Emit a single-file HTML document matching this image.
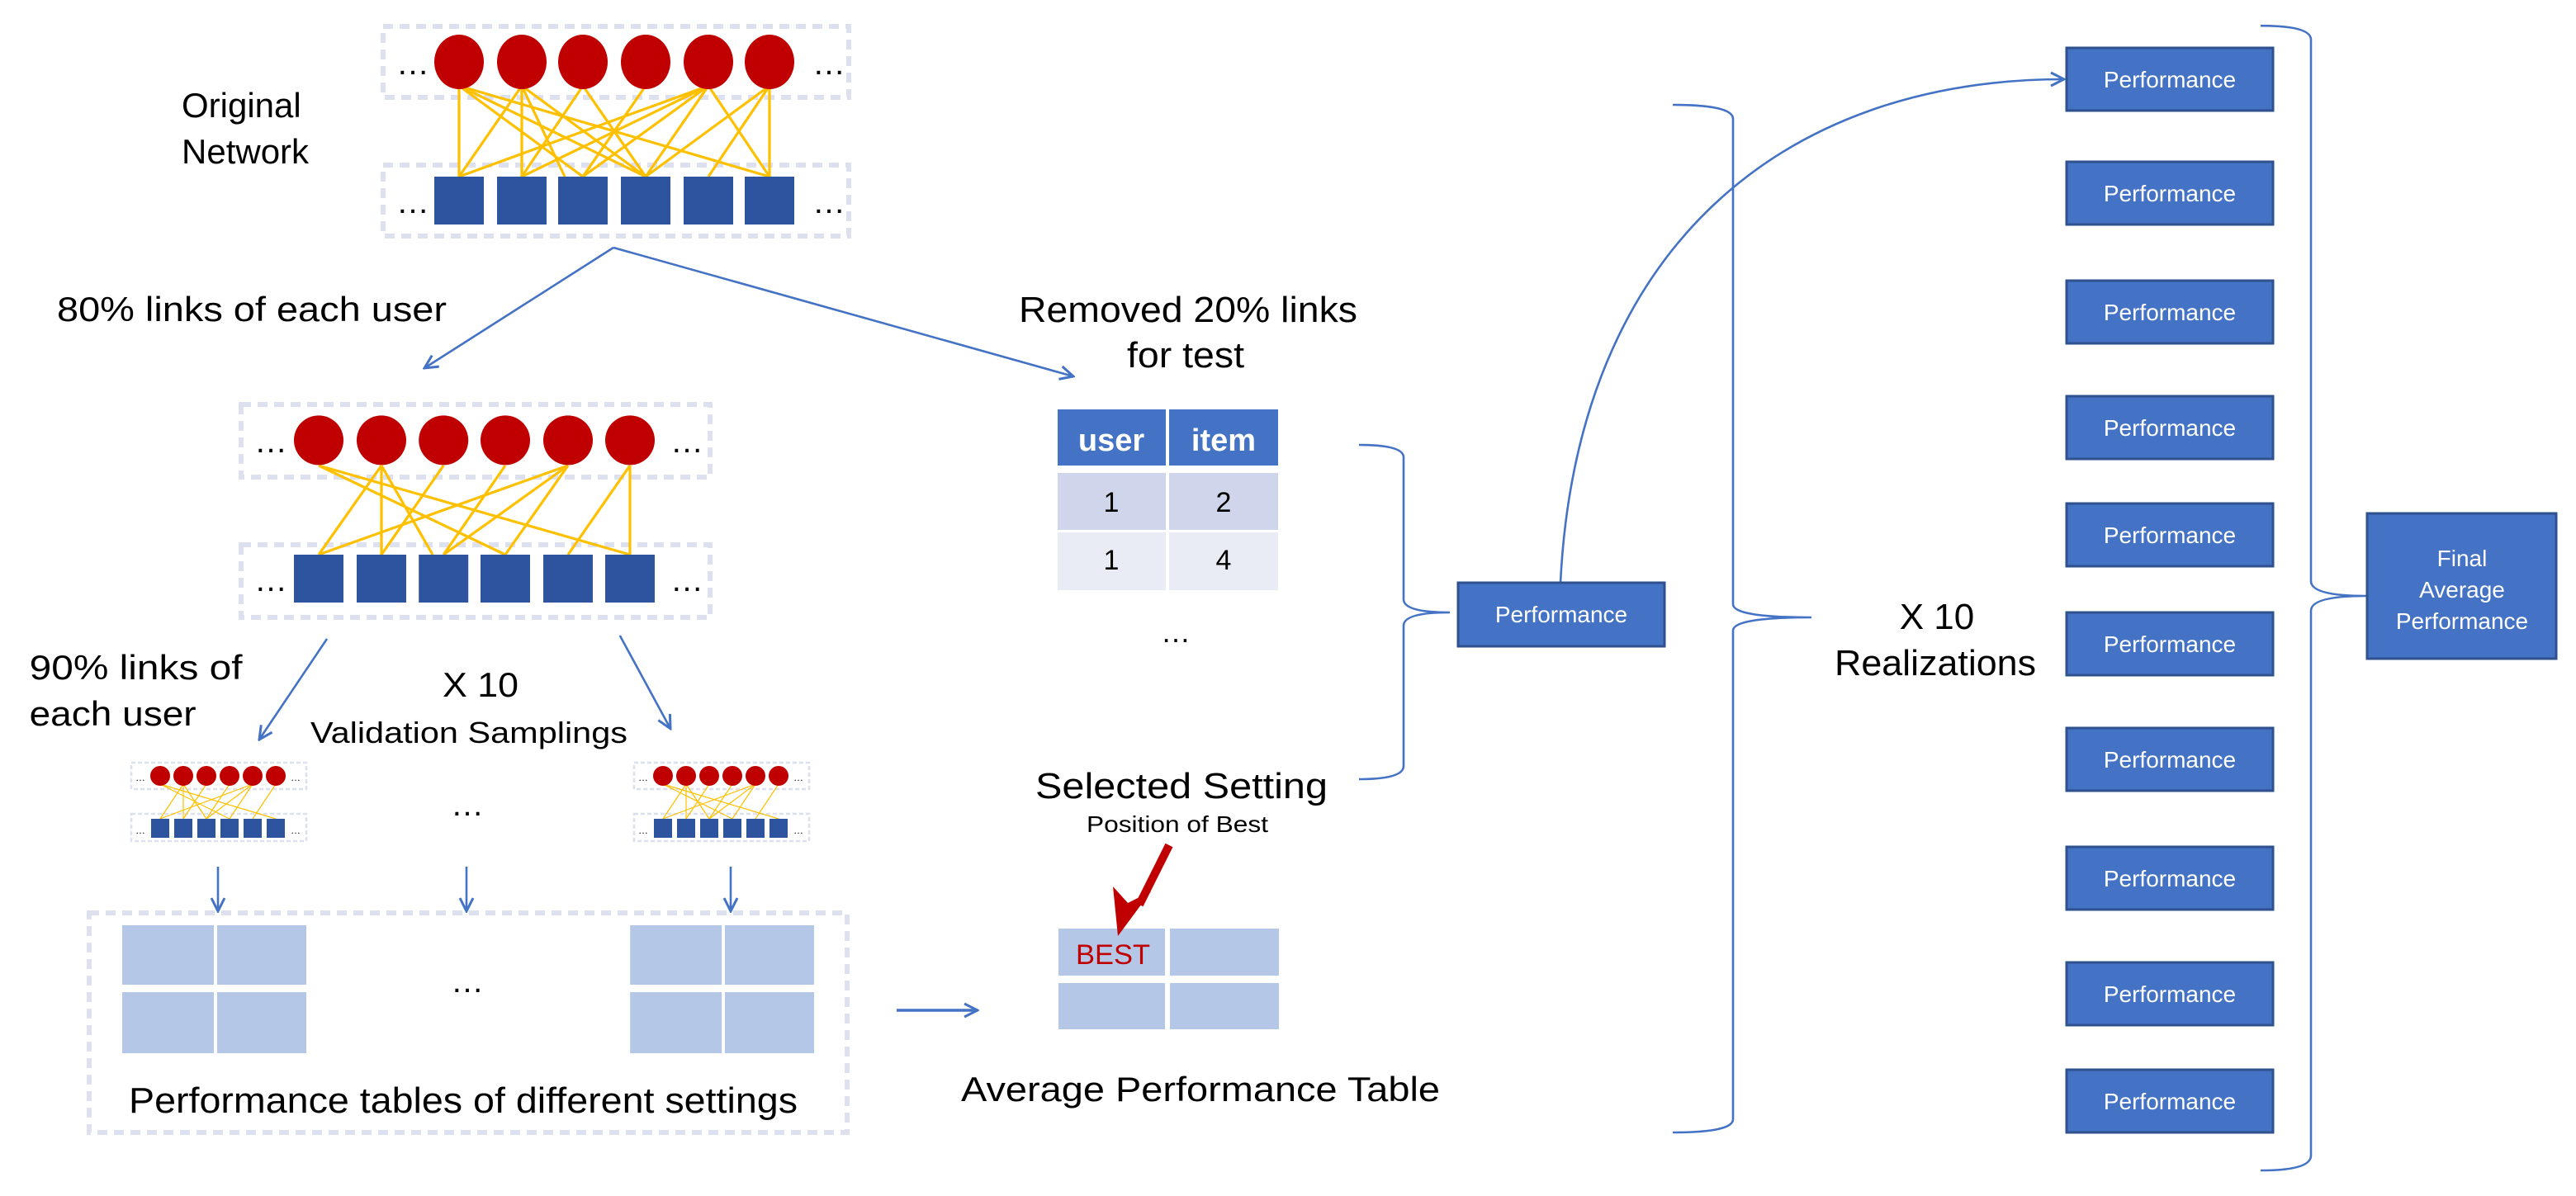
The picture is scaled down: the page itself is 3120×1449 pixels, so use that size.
<!DOCTYPE html>
<html><head><meta charset="utf-8"><style>html,body{margin:0;padding:0;background:#fff}svg{display:block}</style></head>
<body>
<svg width="3120" height="1449" viewBox="0 0 1560 724.5" xmlns="http://www.w3.org/2000/svg" font-family="Liberation Sans, Arial, sans-serif">
<defs>
<marker id="ah" markerWidth="10" markerHeight="10" refX="9" refY="5" orient="auto" markerUnits="userSpaceOnUse">
<path d="M1,1 L9,5 L1,9" fill="none" stroke="#4472c4" stroke-width="1.5"/>
</marker>
</defs>
<rect width="1560" height="724.5" fill="#fff"/>

<!-- TOP NETWORK -->
<g fill="none" stroke="#dde0ef" stroke-width="3" stroke-dasharray="6 4">
<rect x="232" y="16" width="282" height="43"/>
<rect x="232" y="100" width="282" height="43"/>
</g>
<g stroke="#ffc000" stroke-width="1.6">
<line x1="278" y1="52" x2="278" y2="107"/><line x1="278" y1="52" x2="353" y2="107"/><line x1="278" y1="52" x2="391" y2="107"/><line x1="278" y1="52" x2="466" y2="107"/>
<line x1="316" y1="52" x2="278" y2="107"/><line x1="316" y1="52" x2="316" y2="107"/><line x1="316" y1="52" x2="342" y2="107"/><line x1="316" y1="52" x2="391" y2="107"/>
<line x1="353" y1="52" x2="316" y2="107"/><line x1="353" y1="52" x2="391" y2="107"/>
<line x1="391" y1="52" x2="353" y2="107"/>
<line x1="429" y1="52" x2="278" y2="107"/><line x1="429" y1="52" x2="316" y2="107"/><line x1="429" y1="52" x2="353" y2="107"/><line x1="429" y1="52" x2="391" y2="107"/><line x1="429" y1="52" x2="466" y2="107"/>
<line x1="466" y1="52" x2="429" y2="107"/><line x1="466" y1="52" x2="466" y2="107"/><line x1="466" y1="52" x2="391" y2="107"/>
</g>
<g fill="#c00000">
<ellipse cx="278" cy="37.5" rx="15" ry="16.5"/><ellipse cx="316" cy="37.5" rx="15" ry="16.5"/><ellipse cx="353" cy="37.5" rx="15" ry="16.5"/><ellipse cx="391" cy="37.5" rx="15" ry="16.5"/><ellipse cx="429" cy="37.5" rx="15" ry="16.5"/><ellipse cx="466" cy="37.5" rx="15" ry="16.5"/>
</g>
<g fill="#2e54a0">
<rect x="263" y="107" width="30" height="29"/><rect x="301" y="107" width="30" height="29"/><rect x="338" y="107" width="30" height="29"/><rect x="376" y="107" width="30" height="29"/><rect x="414" y="107" width="30" height="29"/><rect x="451" y="107" width="30" height="29"/>
</g>
<g font-size="20" fill="#000">
<text x="240" y="45">…</text><text x="492" y="45">…</text>
<text x="240" y="129">…</text><text x="492" y="129">…</text>
</g>

<text x="110" y="71" font-size="21">Original</text>
<text x="110" y="99" font-size="21">Network</text>

<g fill="none" stroke="#4472c4" stroke-width="1.3">
<line x1="371.5" y1="150" x2="257" y2="223" marker-end="url(#ah)"/>
<line x1="371.5" y1="150" x2="650" y2="228" marker-end="url(#ah)"/>
</g>
<text x="34.5" y="194.5" font-size="21" textLength="236" lengthAdjust="spacingAndGlyphs">80% links of each user</text>
<text x="617" y="195" font-size="22" textLength="205" lengthAdjust="spacingAndGlyphs">Removed 20% links</text>
<text x="682.5" y="222.5" font-size="22" textLength="71" lengthAdjust="spacingAndGlyphs">for test</text>

<!-- SECOND NETWORK -->
<g fill="none" stroke="#dde0ef" stroke-width="3" stroke-dasharray="6 4">
<rect x="146" y="245" width="284" height="44"/>
<rect x="146" y="330" width="284" height="44"/>
</g>
<g stroke="#ffc000" stroke-width="1.6">
<line x1="193" y1="282" x2="306" y2="336"/><line x1="193" y1="282" x2="381.5" y2="336"/>
<line x1="231" y1="282" x2="193" y2="336"/><line x1="231" y1="282" x2="231" y2="336"/><line x1="231" y1="282" x2="262" y2="336"/>
<line x1="268.6" y1="282" x2="231" y2="336"/>
<line x1="306" y1="282" x2="268.6" y2="336"/>
<line x1="344" y1="282" x2="193" y2="336"/><line x1="344" y1="282" x2="268.6" y2="336"/><line x1="344" y1="282" x2="306" y2="336"/>
<line x1="381.5" y1="282" x2="344" y2="336"/><line x1="381.5" y1="282" x2="381.5" y2="336"/>
</g>
<g fill="#c00000">
<ellipse cx="193" cy="266.7" rx="15" ry="15"/><ellipse cx="231" cy="266.7" rx="15" ry="15"/><ellipse cx="268.6" cy="266.7" rx="15" ry="15"/><ellipse cx="306" cy="266.7" rx="15" ry="15"/><ellipse cx="344" cy="266.7" rx="15" ry="15"/><ellipse cx="381.5" cy="266.7" rx="15" ry="15"/>
</g>
<g fill="#2e54a0">
<rect x="178" y="336" width="30" height="29"/><rect x="216" y="336" width="30" height="29"/><rect x="253.6" y="336" width="30" height="29"/><rect x="291" y="336" width="30" height="29"/><rect x="329" y="336" width="30" height="29"/><rect x="366.5" y="336" width="30" height="29"/>
</g>
<g font-size="20" fill="#000">
<text x="154" y="274">…</text><text x="406" y="274">…</text>
<text x="154" y="358">…</text><text x="406" y="358">…</text>
</g>

<g fill="none" stroke="#4472c4" stroke-width="1.3">
<line x1="198" y1="387" x2="157" y2="448" marker-end="url(#ah)"/>
<line x1="375.4" y1="385" x2="406" y2="441.4" marker-end="url(#ah)"/>
</g>
<text x="17.8" y="411.4" font-size="21" textLength="129" lengthAdjust="spacingAndGlyphs">90% links of</text>
<text x="17.8" y="439.5" font-size="21" textLength="101" lengthAdjust="spacingAndGlyphs">each user</text>
<text x="268" y="422" font-size="21" textLength="46" lengthAdjust="spacingAndGlyphs">X 10</text>
<text x="188" y="450" font-size="18" textLength="192" lengthAdjust="spacingAndGlyphs">Validation Samplings</text>

<!-- SMALL NETWORKS -->
<g id="sn">
<g fill="none" stroke="#dde0ef" stroke-width="1.3" stroke-dasharray="2.5 1.5">
<rect x="79.5" y="462" width="106" height="16"/>
<rect x="79.5" y="493" width="106" height="16.5"/>
</g>
<g stroke="#ffc000" stroke-width="0.6">
<line x1="97" y1="475" x2="139" y2="496"/><line x1="97" y1="475" x2="167" y2="496"/>
<line x1="111" y1="475" x2="97" y2="496"/><line x1="111" y1="475" x2="111" y2="496"/><line x1="111" y1="475" x2="125" y2="496"/>
<line x1="125" y1="475" x2="111" y2="496"/><line x1="139" y1="475" x2="125" y2="496"/>
<line x1="153" y1="475" x2="97" y2="496"/><line x1="153" y1="475" x2="125" y2="496"/><line x1="153" y1="475" x2="139" y2="496"/>
<line x1="167" y1="475" x2="153" y2="496"/>
</g>
<g fill="#c00000">
<ellipse cx="97" cy="470" rx="6" ry="6"/><ellipse cx="111" cy="470" rx="6" ry="6"/><ellipse cx="125" cy="470" rx="6" ry="6"/><ellipse cx="139" cy="470" rx="6" ry="6"/><ellipse cx="153" cy="470" rx="6" ry="6"/><ellipse cx="167" cy="470" rx="6" ry="6"/>
</g>
<g fill="#2e54a0">
<rect x="91.5" y="496" width="11" height="11.5"/><rect x="105.5" y="496" width="11" height="11.5"/><rect x="119.5" y="496" width="11" height="11.5"/><rect x="133.5" y="496" width="11" height="11.5"/><rect x="147.5" y="496" width="11" height="11.5"/><rect x="161.5" y="496" width="11" height="11.5"/>
</g>
<g font-size="6" fill="#000"><text x="82" y="473">…</text><text x="176" y="473">…</text><text x="82" y="505">…</text><text x="176" y="505">…</text></g>
</g>
<use href="#sn" transform="translate(304.5,0)"/>
<text x="273" y="494" font-size="20">…</text>

<g fill="none" stroke="#4472c4" stroke-width="1.3">
<line x1="132" y1="525" x2="132" y2="552" marker-end="url(#ah)"/>
<line x1="282.5" y1="525" x2="282.5" y2="552" marker-end="url(#ah)"/>
<line x1="442.5" y1="525" x2="442.5" y2="552" marker-end="url(#ah)"/>
<line x1="543" y1="612" x2="592" y2="612" marker-end="url(#ah)" stroke-width="1.8"/>
</g>

<!-- PERFORMANCE TABLES BOX -->
<rect x="54" y="553" width="459" height="133" fill="none" stroke="#dde0ef" stroke-width="3" stroke-dasharray="6 4"/>
<g fill="#b4c7e7">
<rect x="74" y="560.5" width="55.5" height="36"/><rect x="131.5" y="560.5" width="54" height="36"/>
<rect x="74" y="601" width="55.5" height="37"/><rect x="131.5" y="601" width="54" height="37"/>
<rect x="381.6" y="560.5" width="55.5" height="36"/><rect x="439" y="560.5" width="54" height="36"/>
<rect x="381.6" y="601" width="55.5" height="37"/><rect x="439" y="601" width="54" height="37"/>
</g>
<text x="273" y="601" font-size="20">…</text>
<text x="78" y="674" font-size="22" textLength="405" lengthAdjust="spacingAndGlyphs">Performance tables of different settings</text>

<!-- AVERAGE TABLE -->
<g fill="#b4c7e7">
<rect x="641" y="562.5" width="64.5" height="28.5"/><rect x="708.5" y="562.5" width="66" height="28.5"/>
<rect x="641" y="595.5" width="64.5" height="28"/><rect x="708.5" y="595.5" width="66" height="28"/>
</g>
<text x="651.5" y="584" font-size="17" fill="#c00000" textLength="45" lengthAdjust="spacingAndGlyphs">BEST</text>
<path d="M708,512 L690,548" stroke="#c00000" stroke-width="5" fill="none"/>
<path d="M677,567 L674,537 L683,547 L697,540 Z" fill="#c00000"/>
<text x="627" y="483.5" font-size="22" textLength="177" lengthAdjust="spacingAndGlyphs">Selected Setting</text>
<text x="658" y="504" font-size="14" textLength="110" lengthAdjust="spacingAndGlyphs">Position of Best</text>
<text x="582" y="667" font-size="21" textLength="290" lengthAdjust="spacingAndGlyphs">Average Performance Table</text>

<!-- USER ITEM TABLE -->
<rect x="640.5" y="248" width="65.5" height="34" fill="#4472c4"/>
<rect x="708" y="248" width="66" height="34" fill="#4472c4"/>
<rect x="640.5" y="286.5" width="65.5" height="34.5" fill="#cfd5ea"/>
<rect x="708" y="286.5" width="66" height="34.5" fill="#cfd5ea"/>
<rect x="640.5" y="322.5" width="65.5" height="35" fill="#e9ebf5"/>
<rect x="708" y="322.5" width="66" height="35" fill="#e9ebf5"/>
<g font-size="19" font-weight="bold" fill="#fff" text-anchor="middle">
<text x="673" y="273">user</text><text x="741" y="273">item</text>
</g>
<g font-size="17" fill="#000" text-anchor="middle">
<text x="673" y="310">1</text><text x="741" y="310">2</text>
<text x="673" y="345">1</text><text x="741" y="345">4</text>
</g>
<text x="703" y="389" font-size="18">…</text>

<!-- BRACKETS -->
<g fill="none" stroke="#4472c4" stroke-width="1.3">
<path d="M823,269.5 Q850,269.5 850,277 L850,363 Q850,371 878,371 Q850,371 850,379 L850,464 Q850,472 823,472"/>
<path d="M1013,63.5 Q1049.5,63.5 1049.5,72 L1049.5,366 Q1049.5,374 1097,374 Q1049.5,374 1049.5,382 L1049.5,678 Q1049.5,686 1013,686"/>
<path d="M1369,15.6 Q1399.5,15.6 1399.5,24 L1399.5,352 Q1399.5,361 1433,361 Q1399.5,361 1399.5,370 L1399.5,700 Q1399.5,709 1369,709"/>
<path d="M945,353 C955,150 1080,48 1250,48" marker-end="url(#ah)"/>
</g>

<!-- PERFORMANCE BOXES -->
<g fill="#4472c4" stroke="#2f528f" stroke-width="1.5">
<rect x="883" y="353" width="125" height="38.5"/>
<rect x="1251.5" y="29" width="125" height="38"/>
<rect x="1251.5" y="98" width="125" height="38"/>
<rect x="1251.5" y="170" width="125" height="38"/>
<rect x="1251.5" y="240" width="125" height="38"/>
<rect x="1251.5" y="305" width="125" height="38"/>
<rect x="1251.5" y="371" width="125" height="38"/>
<rect x="1251.5" y="441" width="125" height="38"/>
<rect x="1251.5" y="513" width="125" height="38"/>
<rect x="1251.5" y="583" width="125" height="38"/>
<rect x="1251.5" y="648" width="125" height="38"/>
<rect x="1433.5" y="311" width="114.5" height="88"/>
</g>
<g font-size="14" fill="#fff" text-anchor="middle">
<text x="945.5" y="377">Performance</text>
<text x="1314" y="53">Performance</text>
<text x="1314" y="122">Performance</text>
<text x="1314" y="194">Performance</text>
<text x="1314" y="264">Performance</text>
<text x="1314" y="329">Performance</text>
<text x="1314" y="395">Performance</text>
<text x="1314" y="465">Performance</text>
<text x="1314" y="537">Performance</text>
<text x="1314" y="607">Performance</text>
<text x="1314" y="672">Performance</text>
<text x="1491" y="343">Final</text>
<text x="1491" y="362">Average</text>
<text x="1491" y="381">Performance</text>
</g>

<text x="1173" y="381" font-size="22" text-anchor="middle">X 10</text>
<text x="1172" y="409" font-size="22" text-anchor="middle" textLength="122" lengthAdjust="spacingAndGlyphs">Realizations</text>
</svg>
</body></html>
